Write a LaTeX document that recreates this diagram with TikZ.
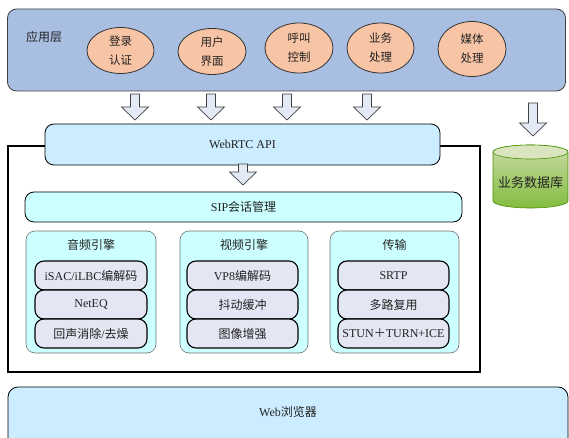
\documentclass[tikz,border=0pt]{standalone}
\usepackage{fontspec}
\setmainfont{Liberation Serif}
\newfontfamily\cjk{Noto Sans CJK SC}
\usetikzlibrary{shapes.geometric}
\newcommand\zh[1]{{\cjk #1}}
\definecolor{applayer}{HTML}{A9BFE2}
\definecolor{ovalfill}{HTML}{F7C4A6}
\definecolor{apifill}{HTML}{CCECFF}
\definecolor{sipfill}{HTML}{CCFFFF}
\definecolor{pillfill}{HTML}{E4E6F4}
\definecolor{arrfill}{HTML}{E3EAF5}
\definecolor{txt}{HTML}{222222}
\newcommand\blkarrow[3]{% x, ytop, ytip
  \path[blockarrow] ({#1-4.5},#2) -- ({#1+4.5},#2) -- ({#1+4.5},{#3-13}) -- ({#1+13.5},{#3-13}) -- (#1,#3) -- ({#1-13.5},{#3-13}) -- ({#1-4.5},{#3-13}) -- cycle;}
\tikzset{
  base/.style={font=\fontsize{12}{14}\selectfont, text=txt},
  layer/.style={draw=black!75, fill=applayer, line width=0.8pt, rounded corners=9pt, inner sep=0},
  oval/.style={ellipse, draw=black!80, line width=0.8pt, fill=ovalfill, inner sep=0, align=center, text=txt,
    font=\cjk\fontsize{11.5}{19}\selectfont},
  panel/.style={base, draw=black, line width=0.8pt, rounded corners=9pt, inner sep=0},
  group/.style={draw=black!55, line width=0.6pt, fill=sipfill, rounded corners=9pt, inner sep=0},
  pill/.style={base, draw=black, line width=1.1pt, fill=pillfill, rounded corners=9pt, inner sep=0, minimum height=29},
  blockarrow/.style={draw=black!75, fill=arrfill, line width=0.7pt, line join=miter},
}
\begin{document}
\begin{tikzpicture}[x=1pt, y=-1pt]
\useasboundingbox (0,0) rectangle (569,438);
% application layer
\node[layer, minimum width=558, minimum height=82] (app) at (286.5,50) {};
\node[base, font=\cjk\fontsize{12}{14}\selectfont] (applabel) at (44,37) {应用层};
\node[oval, minimum width=67, minimum height=46] (e1) at (120.5,50.5) {登录\\认证};
\node[oval, minimum width=68, minimum height=46] (e2) at (212,51.5) {用户\\界面};
\node[oval, minimum width=68, minimum height=50] (e3) at (299,48) {呼叫\\控制};
\node[oval, minimum width=67, minimum height=50] (e4) at (380.5,48) {业务\\处理};
\node[oval, minimum width=68, minimum height=55] (e5) at (472,49) {媒体\\处理};
% arrows from app layer
\blkarrow{135}{94}{120}
\blkarrow{211}{94}{120}
\blkarrow{287}{94}{120}
\blkarrow{367}{94}{120}
\blkarrow{533}{103}{136}
% frame
\draw[line width=1.8pt] (8,146) rectangle (480,372);
\node[panel, fill=apifill, minimum width=395, minimum height=41] (api) at (242.5,144.5) {WebRTC API};
\blkarrow{243}{164}{185}
\node[panel, fill=sipfill, minimum width=437, minimum height=30] (sip) at (243.5,207) {SIP\zh{会话管理}};
% groups
\node[group, minimum width=130, minimum height=122] (audio) at (91,292) {};
\node[group, minimum width=128, minimum height=122] (video) at (244,292) {};
\node[group, minimum width=129, minimum height=122] (trans) at (394.5,292) {};
\node[base] (audiot) at (91,245) {\zh{音频引擎}};
\node[base] (videot) at (244,245) {\zh{视频引擎}};
\node[base] (transt) at (394.5,245) {\zh{传输}};
\node[pill, minimum width=112] (a1) at (91,275.5) {iSAC/iLBC\zh{编解码}};
\node[pill, minimum width=112] (a2) at (91,304.5) {NetEQ};
\node[pill, minimum width=112] (a3) at (91,333.5) {\zh{回声消除}/\zh{去燥}};
\node[pill, minimum width=111] (v1) at (242.5,275.5) {VP8\zh{编解码}};
\node[pill, minimum width=111] (v2) at (242.5,304.5) {\zh{抖动缓冲}};
\node[pill, minimum width=111] (v3) at (242.5,333.5) {\zh{图像增强}};
\node[pill, minimum width=111] (t1) at (393.5,275.5) {SRTP};
\node[pill, minimum width=111] (t2) at (393.5,304.5) {\zh{多路复用}};
\node[pill, minimum width=111] (t3) at (393.5,333.5) {STUN\zh{＋}TURN+ICE};
% database
\path[draw=black!35!green!45!olive, line width=0.6pt, top color=green!20!olive!35!white, bottom color=green!30!olive!75!white]
  (493,152) -- (493,201) arc[start angle=180, end angle=360, x radius=37.5pt, y radius=7pt]
  -- (568,152) arc[start angle=0, end angle=180, x radius=37.5pt, y radius=7pt] -- cycle;
\path[draw=black!35!green!45!olive, line width=0.6pt, fill=green!15!olive!25!white] (530.5,152) ellipse[x radius=37.5pt, y radius=7pt];
\node[base, font=\cjk\fontsize{13}{15}\selectfont] (db) at (530.5,183) {业务数据库};
% web browser
\draw[draw=black, line width=0.8pt, fill=apifill, rounded corners=10pt] (8,387) rectangle (568,460);
\node[base] (web) at (288,412) {Web\zh{浏览器}};
\end{tikzpicture}
\end{document}
